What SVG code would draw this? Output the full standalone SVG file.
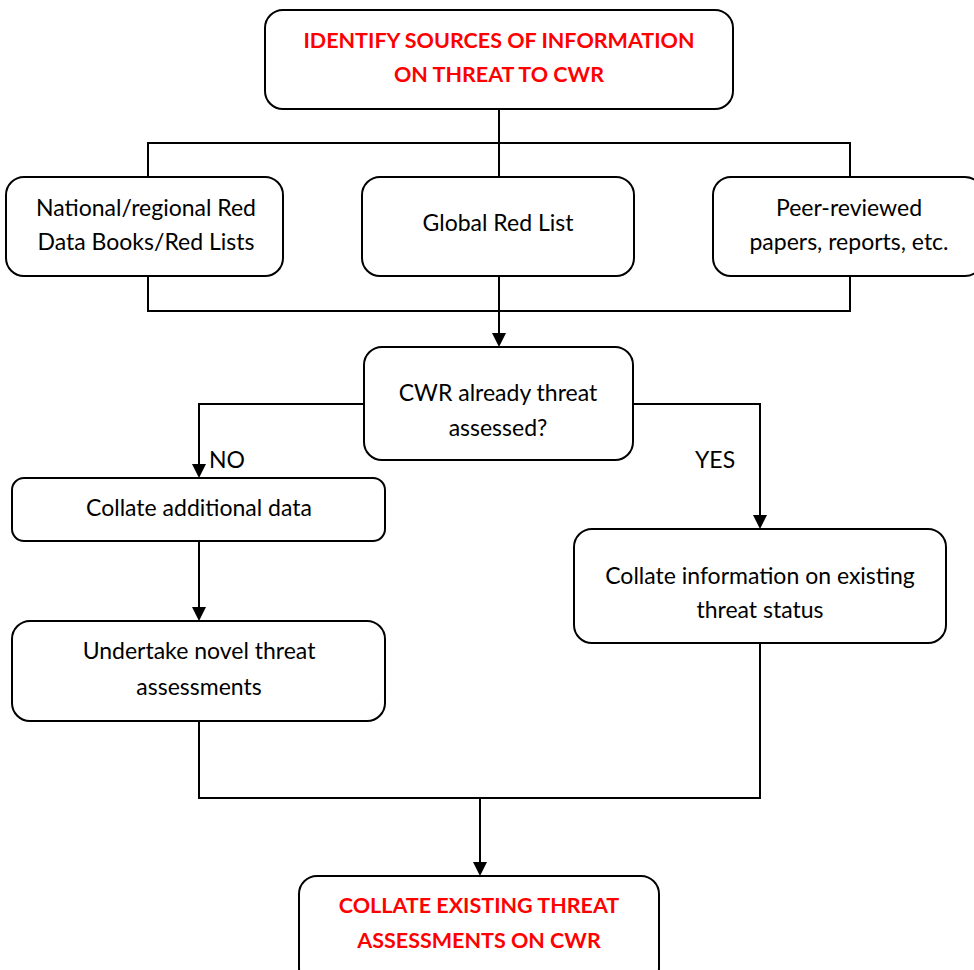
<svg xmlns="http://www.w3.org/2000/svg" width="974" height="970" viewBox="0 0 974 970">
<style>
.box{fill:#fff;stroke:#000;stroke-width:2}
.t{font-family:Lato,"Open Sans","Liberation Sans",sans-serif;font-size:23px;fill:#000;text-anchor:middle}
.r{font-family:Lato,"Open Sans","Liberation Sans",sans-serif;font-size:21.5px;font-weight:bold;fill:#ff0000;text-anchor:middle}
.c{fill:none;stroke:#000;stroke-width:2}
.l{font-family:Lato,"Open Sans","Liberation Sans",sans-serif;font-size:23px;fill:#000}
</style>
<rect width="974" height="970" fill="#fff"/>
<g id="connectors">
<path class="c" d="M499,109 V143 M148,177 V143 H850 V177 M499,143 V177"/>
<path class="c" d="M148,276 V311 H850 V276 M499,276 V311"/>
<path class="c" d="M499,311 V334"/>
<path d="M492,333 L506,333 L499,347 Z"/>
<path class="c" d="M364,404 H199 V465"/>
<path d="M192,464 L206,464 L199,478 Z"/>
<path class="c" d="M633,404 H760 V516"/>
<path d="M753,515 L767,515 L760,529 Z"/>
<path class="c" d="M199,541 V608"/>
<path d="M192,607 L206,607 L199,621 Z"/>
<path class="c" d="M199,721 V798 H760 V643 M480,798 V863"/>
<path d="M473,862 L487,862 L480,876 Z"/>
<text class="l" x="209" y="468">NO</text>
<text class="l" x="695" y="468">YES</text>
</g>
<g id="n-identify">
<rect class="box" x="265" y="10" width="468" height="99" rx="18"/>
<text class="r" x="499" y="48">IDENTIFY SOURCES OF INFORMATION</text>
<text class="r" x="499" y="82">ON THREAT TO CWR</text>
</g>
<g id="n-national">
<rect class="box" x="6" y="177" width="277" height="99" rx="18"/>
<text class="t" x="146" y="216">National/regional Red</text>
<text class="t" x="146" y="250">Data Books/Red Lists</text>
</g>
<g id="n-global">
<rect class="box" x="362" y="177" width="272" height="99" rx="18"/>
<text class="t" x="498" y="231">Global Red List</text>
</g>
<g id="n-peer">
<rect class="box" x="713" y="177" width="270" height="99" rx="18"/>
<text class="t" x="849" y="216">Peer-reviewed</text>
<text class="t" x="849" y="250">papers, reports, etc.</text>
</g>
<g id="n-decision">
<rect class="box" x="364" y="347" width="269" height="113" rx="18"/>
<text class="t" x="498" y="401">CWR already threat</text>
<text class="t" x="498" y="436">assessed?</text>
</g>
<g id="n-collate-add">
<rect class="box" x="12" y="478" width="373" height="63" rx="12"/>
<text class="t" x="199" y="516">Collate additional data</text>
</g>
<g id="n-undertake">
<rect class="box" x="12" y="621" width="373" height="100" rx="18"/>
<text class="t" x="199" y="659">Undertake novel threat</text>
<text class="t" x="199" y="695">assessments</text>
</g>
<g id="n-collate-info">
<rect class="box" x="574" y="529" width="372" height="114" rx="18"/>
<text class="t" x="760" y="584">Collate information on existing</text>
<text class="t" x="760" y="618">threat status</text>
</g>
<g id="n-collate-existing">
<rect class="box" x="299" y="876" width="360" height="110" rx="18"/>
<text class="r" x="479" y="913">COLLATE EXISTING THREAT</text>
<text class="r" x="479" y="948">ASSESSMENTS ON CWR</text>
</g>
</svg>
